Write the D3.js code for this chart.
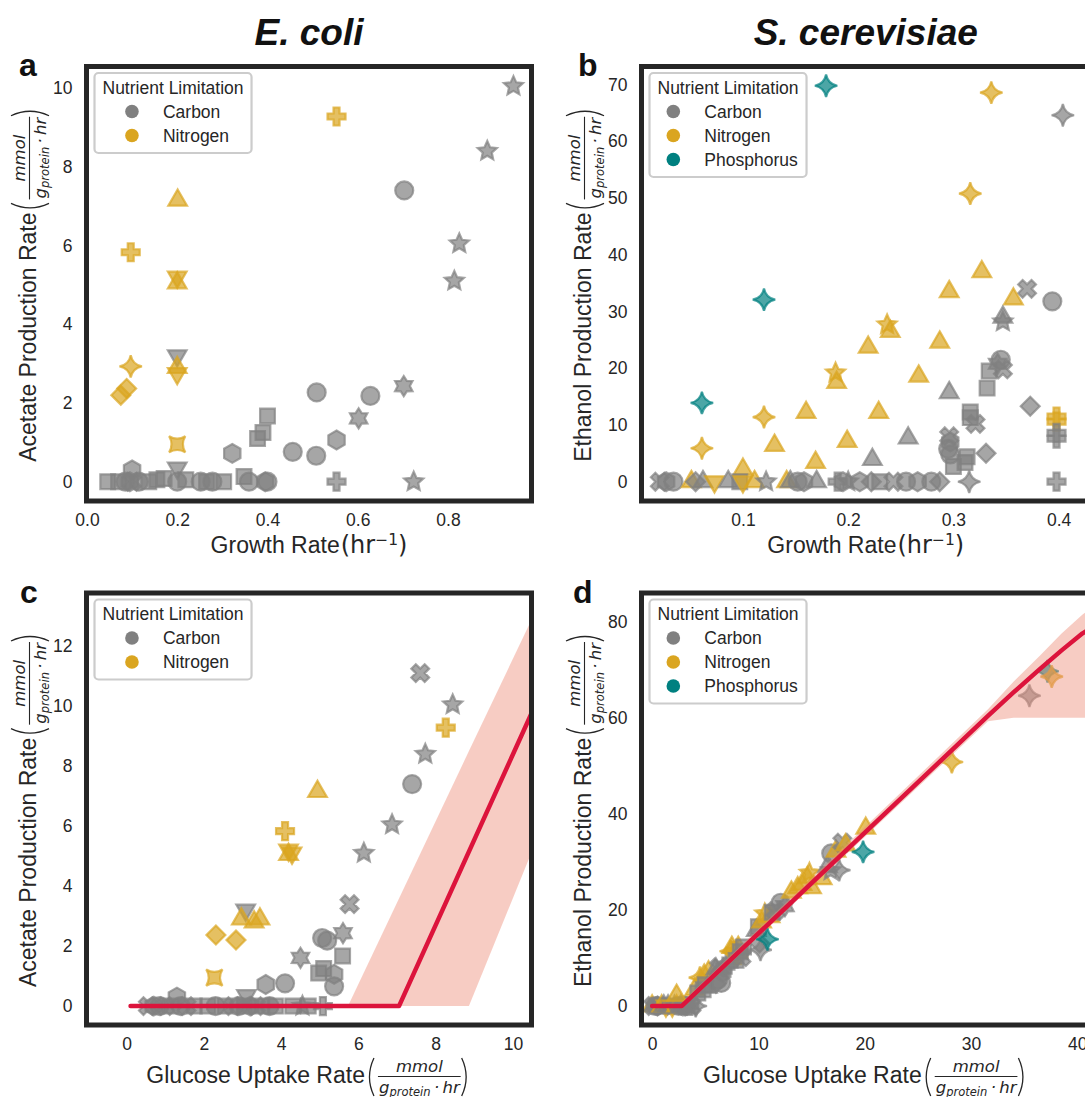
<!DOCTYPE html>
<html>
<head>
<meta charset="utf-8">
<title>Overflow metabolism</title>
<script src="https://cdn.jsdelivr.net/npm/d3@7"></script>
<style>
  body { margin: 0; background: #fff; }
  svg { display: block; }
</style>
</head>
<body>
<div id="chart"></div>
<script>
// nutrient limitations
var limitCodes = ["C", "N", "P"];
var limitNames = ["Carbon", "Nitrogen", "Phosphorus"];
var limitColors = ["#808080", "#DAA520", "#008080"];

// tick values
var aTicksX = [0.0, 0.2, 0.4, 0.6, 0.8];
var aTicksY = [0, 2, 4, 6, 8, 10];
var bTicksX = [0.1, 0.2, 0.3, 0.4];
var bTicksY = [0, 10, 20, 30, 40, 50, 60, 70];
var cTicksX = [0, 2, 4, 6, 8, 10];
var cTicksY = [0, 2, 4, 6, 8, 10, 12];
var dTicksX = [0, 10, 20, 30, 40];
var dTicksY = [0, 20, 40, 60, 80];

// [growth rate, acetate, limitation, marker]  E. coli
var ecoliGrowth = [
  [0.945,10.05,"C","*"],[0.887,8.4,"C","*"],[0.825,6.05,"C","*"],[0.814,5.1,"C","*"],
  [0.703,7.4,"C","o"],[0.553,9.28,"N","P"],[0.201,7.15,"N","^"],[0.097,5.83,"N","P"],
  [0.2,5.05,"N","^"],[0.2,5.2,"N","v"],[0.2,3.2,"C","v"],[0.2,2.9,"N","^"],[0.2,2.75,"N","v"],
  [0.097,2.93,"N","4"],[0.088,2.37,"N","D"],[0.075,2.2,"N","D"],[0.2,0.95,"N","q"],
  [0.509,2.27,"C","o"],[0.628,2.18,"C","o"],[0.702,2.43,"C","6"],[0.602,1.61,"C","6"],
  [0.553,1.06,"C","h"],[0.456,0.76,"C","o"],[0.508,0.66,"C","o"],[0.4,1.67,"C","s"],
  [0.39,1.25,"C","s"],[0.378,1.1,"C","s"],[0.322,0.72,"C","h"],[0.553,0,"C","P"],[0.724,0,"C","*"],
  [0.046,0,"C","s"],[0.07,0,"C","s"],[0.085,0,"C","o"],[0.095,0,"C","h"],[0.1,0.3,"C","h"],
  [0.1,0,"C","X"],[0.115,0,"C","o"],[0.137,0,"C","s"],[0.155,0.05,"C","s"],[0.171,0.08,"C","s"],
  [0.2,0,"C","o"],[0.2,0.35,"C","v"],[0.219,0.05,"C","s"],[0.252,0,"C","o"],[0.265,0,"C","s"],
  [0.278,0,"C","o"],[0.303,0,"C","s"],[0.348,0.13,"C","s"],[0.359,0,"C","o"],[0.395,0,"C","h"],
  [0.4,0,"C","o"]
];

// [growth rate, ethanol, limitation, marker]  S. cerevisiae
var yeastGrowth = [
  [0.179,69.8,"P","4"],[0.336,68.6,"N","4"],[0.404,64.6,"C","4"],[0.316,50.8,"N","4"],
  [0.327,37.0,"N","^"],[0.37,34.0,"C","X"],[0.296,33.5,"N","^"],[0.357,32.2,"N","^"],
  [0.394,31.8,"C","o"],[0.12,32.1,"P","4"],[0.347,29.0,"C","^"],[0.347,28.2,"C","*"],
  [0.237,27.7,"N","*"],[0.24,26.5,"N","^"],[0.219,23.7,"N","^"],[0.287,24.6,"N","^"],
  [0.345,21.5,"C","o"],[0.334,19.5,"C","s"],[0.347,19.8,"C","X"],[0.342,20.8,"C","6"],
  [0.188,19.2,"N","*"],[0.189,17.5,"N","^"],[0.267,18.6,"N","^"],[0.296,15.7,"C","^"],
  [0.332,16.5,"C","s"],[0.061,13.9,"P","4"],[0.373,13.3,"C","D"],[0.12,11.4,"N","4"],
  [0.16,12.2,"N","^"],[0.229,12.2,"N","^"],[0.398,11.5,"N","P"],[0.398,10.6,"N","P"],
  [0.398,8.6,"C","P"],[0.398,7.6,"C","P"],[0.398,0,"C","P"],[0.316,12.3,"C","s"],
  [0.316,11.3,"C","s"],[0.321,10.2,"C","X"],[0.257,7.7,"C","^"],[0.13,6.4,"N","^"],
  [0.199,7.1,"N","^"],[0.061,5.9,"N","4"],[0.223,3.9,"C","^"],[0.169,3.4,"N","^"],
  [0.1,2.2,"N","^"],[0.296,8.0,"C","X"],[0.297,7.0,"C","h"],[0.295,5.8,"C","o"],
  [0.297,4.8,"C","o"],[0.3,2.7,"C","s"],[0.313,4.4,"C","s"],[0.311,3.4,"C","s"],
  [0.331,5.0,"C","D"],[0.315,0,"C","4"],
  [0.021,0,"C","X"],[0.027,0,"C","h"],[0.034,0,"C","o"],[0.051,0,"N","^"],[0.055,0,"C","D"],
  [0.062,0,"C","^"],[0.073,0,"N","v"],[0.086,0,"C","^"],[0.097,0,"C","s"],[0.1,0,"N","v"],
  [0.111,0,"N","^"],[0.122,0,"C","*"],[0.1415,0,"N","^"],[0.145,0,"C","^"],[0.152,0,"C","o"],
  [0.158,0,"C","h"],[0.17,0,"C","^"],[0.19,0,"C","P"],[0.195,0,"C","h"],[0.2,0,"C","*"],
  [0.211,0,"C","h"],[0.222,0,"C","D"],[0.23,0,"C","s"],[0.243,0,"C","X"],[0.255,0,"C","o"],
  [0.266,0,"C","h"],[0.279,0,"C","o"],[0.287,0,"C","D"]
];

// [glucose uptake, acetate, limitation, marker]  E. coli
var ecoliUptake = [
  [7.6,11.1,"C","X"],[8.44,10.05,"C","*"],[8.26,9.28,"N","P"],[7.73,8.4,"C","*"],
  [7.39,7.4,"C","o"],[4.94,7.15,"N","^"],[6.87,6.05,"C","*"],[4.1,5.83,"N","P"],
  [6.14,5.1,"C","*"],[4.19,5.05,"N","^"],[4.19,5.2,"N","v"],[4.28,5.1,"N","v"],
  [5.77,3.4,"C","X"],[3.08,3.2,"C","v"],[2.97,2.9,"N","^"],[3.3,2.8,"N","^"],[3.45,2.9,"N","^"],
  [2.31,2.37,"N","D"],[2.83,2.2,"N","D"],[5.6,2.43,"C","6"],[5.06,2.27,"C","o"],[5.19,2.18,"C","o"],
  [5.59,1.67,"C","s"],[4.5,1.61,"C","6"],[4.97,1.1,"C","s"],[5.1,1.25,"C","s"],[5.37,1.06,"C","h"],
  [5.37,0.66,"C","o"],[3.6,0.72,"C","h"],[4.1,0.76,"C","o"],[2.27,0.95,"N","q"],
  [0.55,0,"C","X"],[0.7,0,"C","h"],[0.85,0,"C","o"],[1.0,0,"C","X"],[1.15,0,"C","s"],
  [1.3,0.3,"C","h"],[1.4,0,"C","o"],[1.55,0,"C","X"],[1.75,0,"C","s"],[2.1,0,"C","s"],
  [2.3,0,"C","o"],[2.55,0,"C","s"],[2.75,0,"C","X"],[2.9,0,"C","o"],[3.05,0,"C","s"],
  [3.1,0.35,"C","v"],[3.2,0,"C","h"],[3.35,0,"C","X"],[3.5,0,"C","s"],[3.7,0,"C","o"],
  [3.85,0,"C","s"],[4.3,0,"C","s"],[4.55,0,"C","*"],[4.7,0,"C","s"],[5.08,0,"C","P"]
];

// [glucose uptake, ethanol, limitation, marker]  S. cerevisiae
var yeastUptake = [
  [0.0,0,"N","^"],[0.1,0,"C","X"],[0.3,0,"C","o"],[0.5,0,"C","h"],[0.7,0,"C","s"],
  [0.9,0,"N","^"],[1.1,0,"C","^"],[1.3,0,"N","v"],[1.5,0,"C","^"],[1.7,0,"C","s"],
  [1.9,0,"N","v"],[2.1,0,"C","*"],[2.3,0,"N","^"],[2.5,0,"C","o"],[2.7,0,"C","^"],
  [2.9,0,"C","h"],[3.1,0,"C","D"],[3.3,0,"C","s"],[3.5,0,"C","P"],[3.7,0,"C","X"],[4.1,0,"C","4"],
  [2.3,2.2,"N","^"],[4.0,3.4,"N","^"],[4.5,5.9,"N","4"],[4.9,6.4,"N","^"],[5.3,7.1,"N","^"],
  [5.2,3.9,"C","^"],[6.0,4.7,"C","D"],[6.0,7.7,"C","^"],[6.3,8.0,"C","X"],[6.6,7.0,"C","h"],
  [6.2,5.5,"C","o"],[6.5,4.8,"C","o"],[4.3,2.7,"C","s"],[5.0,4.4,"C","s"],[4.8,3.4,"C","s"],
  [6.9,8.2,"C","P"],[7.2,8.6,"C","P"],[7.4,11.4,"N","4"],[7.5,12.2,"N","^"],[8.1,12.2,"N","^"],
  [7.8,11.5,"N","P"],[8.1,10.6,"N","P"],[8.4,10.2,"C","X"],[7.9,9.5,"C","s"],[8.3,11.3,"C","s"],
  [8.6,12.3,"C","s"],[10.2,11.7,"C","4"],[10.0,16.5,"C","s"],[9.8,15.7,"C","^"],[10.3,17.5,"N","^"],
  [10.6,19.2,"N","*"],[11.1,18.6,"N","^"],[10.1,13.1,"C","D"],[10.85,13.9,"P","4"],
  [11.3,19.5,"C","s"],[11.6,19.8,"C","X"],[12.1,21.5,"C","o"],[12.5,20.8,"C","6"],
  [13.1,23.7,"N","^"],[13.7,24.6,"N","^"],[14.1,25.3,"N","^"],[14.6,26.7,"N","^"],
  [14.8,27.7,"N","*"],[15.0,24.6,"N","^"],[16.0,26.5,"N","^"],[16.5,29.0,"C","^"],
  [16.8,28.2,"C","*"],[16.85,31.8,"C","o"],[17.3,32.2,"N","^"],[17.6,28.3,"C","4"],
  [17.9,34.0,"C","X"],[18.2,33.5,"N","^"],[19.85,32.1,"P","4"],[20.1,37.0,"N","^"],
  [28.2,50.8,"N","4"],[35.5,64.6,"C","4"],[37.2,69.7,"P","4"],[37.6,68.6,"N","4"]
];

// model fits and their uncertainty bands
var cFitX = [0.1, 7.05, 10.6];
var cFitY = [0, 0, 10.1];
var cBandX = [5.73, 8.86, 10.6];
var cBandLo = [0, 0, 5.5];
var cBandHi = [0, 8.5, 13.2];
var dFitX = [0, 2.8, 31.6, 34, 36.5, 38.5, 40.5, 42];
var dFitY = [0, 0, 60.4, 65.3, 70.2, 74, 77.6, 79.6];
var dBandX = [2.8, 31.6, 34, 36.5, 38.5, 40.5, 42];
var dBandLo = [-0.6, 59.3, 60, 60, 60, 60, 60];
var dBandHi = [0.8, 61.8, 67.5, 73, 77.5, 81.5, 84];

var ink = "#262626";
var sans = "'Liberation Sans', Arial, Helvetica, sans-serif";
var mathFont = "'DejaVu Sans', sans-serif";
var colorOf = d3.scaleOrdinal().domain(limitCodes).range(limitColors);

// marker shapes as d3 symbol types (size = r*r)
function poly(c, pts) {
  c.moveTo(pts[0][0], pts[0][1]);
  for (var i = 1; i < pts.length; i++) c.lineTo(pts[i][0], pts[i][1]);
  c.closePath();
}
function starPts(n, ro, ri, rot) {
  var pts = [];
  for (var i = 0; i < 2 * n; i++) {
    var a = rot + i * Math.PI / n, rr = i % 2 ? ri : ro;
    pts.push([rr * Math.cos(a), rr * Math.sin(a)]);
  }
  return pts;
}
function crossPts(R, ang) {
  var w = R / 3, base = [[-w,-R],[w,-R],[w,-w],[R,-w],[R,w],[w,w],[w,R],[-w,R],[-w,w],[-R,w],[-R,-w],[-w,-w]];
  var ca = Math.cos(ang), sa = Math.sin(ang);
  return base.map(function(p) { return [p[0]*ca - p[1]*sa, p[0]*sa + p[1]*ca]; });
}
var shapes = {
  "o": { draw: function(c, s) { var r = Math.sqrt(s); c.moveTo(r, 0); c.arc(0, 0, r, 0, 2 * Math.PI); } },
  "s": { draw: function(c, s) { var r = Math.sqrt(s) * 0.82; c.rect(-r, -r, 2 * r, 2 * r); } },
  "^": { draw: function(c, s) { var R = Math.sqrt(s) * 1.2; poly(c, [[0,-R],[R*0.866,R*0.5],[-R*0.866,R*0.5]]); } },
  "v": { draw: function(c, s) { var R = Math.sqrt(s) * 1.2; poly(c, [[0,R],[R*0.866,-R*0.5],[-R*0.866,-R*0.5]]); } },
  "D": { draw: function(c, s) { var R = Math.sqrt(s) * 1.05; poly(c, [[0,-R],[R,0],[0,R],[-R,0]]); } },
  "P": { draw: function(c, s) { poly(c, crossPts(Math.sqrt(s) * 1.0, 0)); } },
  "X": { draw: function(c, s) { poly(c, crossPts(Math.sqrt(s) * 1.05, Math.PI / 4)); } },
  "*": { draw: function(c, s) { var r = Math.sqrt(s) * 1.12; poly(c, starPts(5, r, r * 0.47, -Math.PI / 2)); } },
  "h": { draw: function(c, s) { var r = Math.sqrt(s) * 1.05; poly(c, starPts(3, r, r, -Math.PI / 2)); } },
  "6": { draw: function(c, s) { var r = Math.sqrt(s) * 1.12; poly(c, starPts(6, r, r * 0.6, -Math.PI / 2)); } },
  "4": { draw: function(c, s) {
    var R = Math.sqrt(s) * 1.25, k = R * 0.16;
    c.moveTo(0, -R);
    c.quadraticCurveTo(k, -k, R, 0);
    c.quadraticCurveTo(k, k, 0, R);
    c.quadraticCurveTo(-k, k, -R, 0);
    c.quadraticCurveTo(-k, -k, 0, -R);
    c.closePath();
  } },
  "q": { draw: function(c, s) {
    var a = Math.sqrt(s) * 0.9, k = a * 0.4;
    c.moveTo(-a, -a);
    c.quadraticCurveTo(0, -k, a, -a);
    c.quadraticCurveTo(k, 0, a, a);
    c.quadraticCurveTo(0, k, -a, a);
    c.quadraticCurveTo(-k, 0, -a, -a);
    c.closePath();
  } }
};

var svg = d3.select("#chart").append("svg")
  .attr("width", 1085).attr("height", 1097)
  .style("font-family", sans);

// axis label with matplotlib-style math part
function axisLabel(parent, tx, ty, rot, main, kind) {
  var outer = parent.append("g").attr("transform", "translate(" + tx + "," + ty + ") rotate(" + rot + ")");
  var g = outer.append("g");
  var t = g.append("text").attr("font-size", 23).attr("fill", ink).text(main);
  var u = t.node().getComputedTextLength();
  if (kind === "hr") {
    var m = g.append("text").attr("x", u + 1).attr("font-family", mathFont).attr("font-size", 24).attr("fill", ink);
    m.append("tspan").text("(hr");
    m.append("tspan").attr("font-size", 15.5).attr("dy", -8).text("\u22121");
    m.append("tspan").attr("dy", 8).text(")");
    u += 1 + m.node().getComputedTextLength();
  } else {
    var lp = u + 3;
    g.append("path").attr("d", "M" + (lp + 6) + ",-25 Q" + (lp - 3) + ",-6 " + (lp + 6) + ",13")
      .attr("fill", "none").attr("stroke", ink).attr("stroke-width", 1.3);
    var fx = lp + 11;
    var den = g.append("text").attr("x", fx).attr("y", 10).attr("font-family", mathFont)
      .attr("font-style", "italic").attr("font-size", 16.5).attr("fill", ink);
    den.append("tspan").text("g");
    den.append("tspan").attr("font-size", 11.5).attr("dy", 3).text("protein");
    den.append("tspan").attr("dy", -3).text("\u2009\u00b7\u2009hr");
    var dw = den.node().getComputedTextLength();
    g.append("text").attr("x", fx + dw / 2).attr("y", -11).attr("text-anchor", "middle")
      .attr("font-family", mathFont).attr("font-style", "italic").attr("font-size", 16.5)
      .attr("fill", ink).text("mmol");
    g.append("line").attr("x1", fx - 1).attr("x2", fx + dw + 1).attr("y1", -6.5).attr("y2", -6.5)
      .attr("stroke", ink).attr("stroke-width", 1.1);
    var rp = fx + dw + 5;
    g.append("path").attr("d", "M" + (rp - 3) + ",-25 Q" + (rp + 6) + ",-6 " + (rp - 3) + ",13")
      .attr("fill", "none").attr("stroke", ink).attr("stroke-width", 1.3);
    u = rp + 7;
  }
  g.attr("transform", "translate(" + (-u / 2) + ",0)");
}

function drawPanel(cfg) {
  var x = d3.scaleLinear().domain(cfg.xDomain).range([cfg.left, cfg.right]);
  var y = d3.scaleLinear().domain(cfg.yDomain).range([cfg.bottom, cfg.top]);
  var panel = svg.append("g");
  var clipId = "clip-" + cfg.letter;
  panel.append("clipPath").attr("id", clipId).append("rect")
    .attr("x", cfg.left).attr("y", cfg.top)
    .attr("width", cfg.right - cfg.left).attr("height", cfg.bottom - cfg.top);
  var plot = panel.append("g").attr("clip-path", "url(#" + clipId + ")");

  plot.selectAll("path.pt").data(cfg.points).join("path")
    .attr("class", "pt")
    .attr("transform", function(d) { return "translate(" + x(d[0]) + "," + y(d[1]) + ")"; })
    .attr("d", function(d) { return d3.symbol().type(shapes[d[3]]).size(81)(); })
    .attr("fill", function(d) { return colorOf(d[2]); })
    .attr("fill-opacity", 0.7)
    .attr("stroke", function(d) { return colorOf(d[2]); })
    .attr("stroke-opacity", 0.7)
    .attr("stroke-width", 2.2);

  if (cfg.band) {
    plot.append("path").datum(d3.zip(cfg.band[0], cfg.band[1], cfg.band[2]))
      .attr("d", d3.area().x(function(d) { return x(d[0]); })
        .y0(function(d) { return y(d[1]); }).y1(function(d) { return y(d[2]); }))
      .attr("fill", "#ee8e7a").attr("fill-opacity", 0.45);
  }
  if (cfg.fit) {
    plot.append("path").datum(d3.zip(cfg.fit[0], cfg.fit[1]))
      .attr("d", d3.line().x(function(d) { return x(d[0]); }).y(function(d) { return y(d[1]); }))
      .attr("fill", "none").attr("stroke", "#DC143C").attr("stroke-width", 4.5)
      .attr("stroke-linejoin", "round").attr("stroke-linecap", "round");
  }

  // axes (no tick marks, seaborn white style)
  var xa = panel.append("g").attr("transform", "translate(0," + cfg.bottom + ")")
    .call(d3.axisBottom(x).tickValues(cfg.xTicks).tickFormat(d3.format(cfg.fmtX)).tickSize(0).tickPadding(13));
  var ya = panel.append("g").attr("transform", "translate(" + cfg.left + ",0)")
    .call(d3.axisLeft(y).tickValues(cfg.yTicks).tickFormat(d3.format("d")).tickSize(0).tickPadding(14));
  [xa, ya].forEach(function(a) {
    a.select(".domain").remove();
    a.selectAll("text").attr("font-size", 17.5).attr("font-family", sans).attr("fill", ink);
  });

  // frame
  panel.append("rect").attr("x", cfg.left).attr("y", cfg.top)
    .attr("width", cfg.right - cfg.left).attr("height", cfg.bottom - cfg.top)
    .attr("fill", "none").attr("stroke", ink).attr("stroke-width", 5);

  // legend
  var lg = panel.append("g").attr("transform", "translate(" + (cfg.left + 8) + "," + (cfg.top + 6.5) + ")");
  var box = lg.append("rect").attr("rx", 4).attr("fill", "#fff").attr("fill-opacity", 0.8)
    .attr("stroke", "#cccccc").attr("stroke-width", 2.2);
  var title = lg.append("text").attr("x", 8).attr("y", 20.5).attr("font-size", 17.5).attr("fill", ink)
    .text("Nutrient Limitation");
  var tw = title.node().getComputedTextLength();
  var names = limitNames.slice(0, cfg.legendN);
  var labels = lg.selectAll("text.entry").data(names).join("text").attr("class", "entry")
    .attr("font-size", 17.5).attr("fill", ink)
    .attr("y", function(d, i) { return 44.5 + 24 * i; }).text(function(d) { return d; });
  var maxW = d3.max(labels.nodes(), function(n) { return n.getComputedTextLength(); });
  var hs = 8 + Math.max(0, (tw - (46 + maxW)) / 2);
  labels.attr("x", hs + 46);
  lg.selectAll("circle").data(names).join("circle")
    .attr("cx", hs + 15).attr("cy", function(d, i) { return 38.5 + 24 * i; }).attr("r", 6.8)
    .attr("fill", function(d, i) { return limitColors[i]; });
  box.attr("width", tw + 16).attr("height", 32 + 24 * cfg.legendN);

  // labels
  var cx = (cfg.left + cfg.right) / 2, cy = (cfg.top + cfg.bottom) / 2;
  axisLabel(svg, cfg.left - 50.5, cy, -90, cfg.yLabel, "frac");
  axisLabel(svg, cx, cfg.xLabelY, 0, cfg.xLabel, cfg.xKind);
  svg.append("text").attr("x", cfg.letterX).attr("y", cfg.top + 9.5).attr("font-size", 32)
    .attr("font-weight", "bold").attr("fill", "#111").text(cfg.letter);
  if (cfg.title) {
    svg.append("text").attr("x", cx).attr("y", 45).attr("text-anchor", "middle")
      .attr("font-size", 37).attr("font-weight", "bold").attr("font-style", "italic")
      .attr("fill", "#111").text(cfg.title);
  }
}

drawPanel({
  letter: "a", letterX: 19, title: "E. coli",
  left: 86.5, right: 531.5, top: 66.5, bottom: 501,
  xDomain: [-0.001, 0.985], yDomain: [-0.49, 10.55],
  xTicks: aTicksX, yTicks: aTicksY, fmtX: ".1f",
  points: ecoliGrowth, legendN: 2,
  yLabel: "Acetate Production Rate", xLabel: "Growth Rate", xKind: "hr", xLabelY: 553
});
drawPanel({
  letter: "b", letterX: 578, title: "S. cerevisiae",
  left: 641.5, right: 1090, top: 66.5, bottom: 501,
  xDomain: [0.0036, 0.4298], yDomain: [-3.4, 73.2],
  xTicks: bTicksX, yTicks: bTicksY, fmtX: ".1f",
  points: yeastGrowth, legendN: 3,
  yLabel: "Ethanol Production Rate", xLabel: "Growth Rate", xKind: "hr", xLabelY: 553
});
drawPanel({
  letter: "c", letterX: 20, title: null,
  left: 86.5, right: 531.5, top: 593, bottom: 1025,
  xDomain: [-1.04, 10.48], yDomain: [-0.63, 13.77],
  xTicks: cTicksX, yTicks: cTicksY, fmtX: "d",
  points: ecoliUptake, legendN: 2,
  band: [cBandX, cBandLo, cBandHi], fit: [cFitX, cFitY],
  yLabel: "Acetate Production Rate", xLabel: "Glucose Uptake Rate", xKind: "frac", xLabelY: 1083
});
drawPanel({
  letter: "d", letterX: 573, title: null,
  left: 641.5, right: 1090, top: 593, bottom: 1025,
  xDomain: [-1.0, 41.2], yDomain: [-3.96, 86],
  xTicks: dTicksX, yTicks: dTicksY, fmtX: "d",
  points: yeastUptake, legendN: 3,
  band: [dBandX, dBandLo, dBandHi], fit: [dFitX, dFitY],
  yLabel: "Ethanol Production Rate", xLabel: "Glucose Uptake Rate", xKind: "frac", xLabelY: 1083
});
</script>
</body>
</html>
